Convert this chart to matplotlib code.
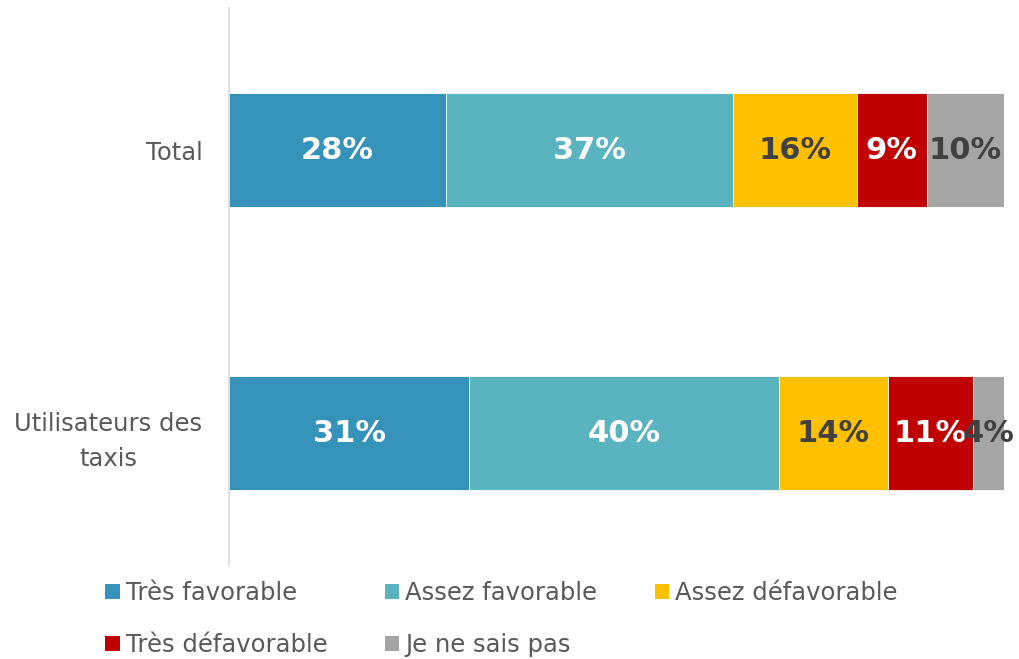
import numpy as np
import matplotlib.pyplot as plt
from matplotlib.patches import Patch

# ----------------------------------------------------------------------
# DATA
# ----------------------------------------------------------------------
categories = ["Total", "Utilisateurs des\ntaxis"]
series_names = ["Très favorable", "Assez favorable", "Assez défavorable",
                "Très défavorable", "Je ne sais pas"]
tres_favorable = [28, 31]
assez_favorable = [37, 40]
assez_defavorable = [16, 14]
tres_defavorable = [9, 11]
ne_sait_pas = [10, 4]

colors = ["#3593BA", "#5AB4BF", "#FFC000", "#C00000", "#A5A5A5"]
label_colors = ["white", "white", "#404040", "white", "#404040"]

plt.rcParams['font.family'] = ['DejaVu Sans']

fig = plt.figure(figsize=(10.19, 6.59), dpi=100)
ax = fig.add_axes([0.2247, 0.1426, 0.7606, 0.8454])

values = [tres_favorable, assez_favorable, assez_defavorable,
          tres_defavorable, ne_sait_pas]
ypos = np.arange(len(categories))
left = np.zeros(len(categories))

handles = []
for vals, name, col, lcol in zip(values, series_names, colors, label_colors):
    vals = np.array(vals, dtype=float)
    ax.barh(ypos, vals, left=left, height=0.40, color=col,
            edgecolor="white", linewidth=0.6)
    for y, v, l in zip(ypos, vals, left):
        ax.text(l + v / 2, y, f"{int(v)}%", ha="center", va="center",
                color=lcol, fontsize=22, fontweight="bold")
    handles.append(Patch(facecolor=col, label=name))
    left += vals

ax.set_xlim(0, 100)
ax.set_ylim(1.466, -0.502)
ax.set_yticks(ypos)
ax.set_yticklabels(categories, fontsize=17.5, color="#595959",
                   multialignment="center", linespacing=1.6)
ax.tick_params(axis="y", length=0, pad=19)
ax.set_xticks([])
for s in ["top", "right", "bottom"]:
    ax.spines[s].set_visible(False)
ax.spines["left"].set_color("#D9D9D9")
ax.spines["left"].set_linewidth(1.2)

# legend: row-wise order with 3 columns
order = [0, 3, 1, 4, 2]
fig.legend([handles[i] for i in order], [series_names[i] for i in order],
           ncol=3, loc="lower left", bbox_to_anchor=(0.082, -0.03),
           frameon=False, fontsize=17.5, handlelength=0.6, handleheight=0.6,
           handletextpad=0.25, columnspacing=2.35, labelspacing=1.15,
           labelcolor="#595959")

fig.savefig("out.png", dpi=100)
